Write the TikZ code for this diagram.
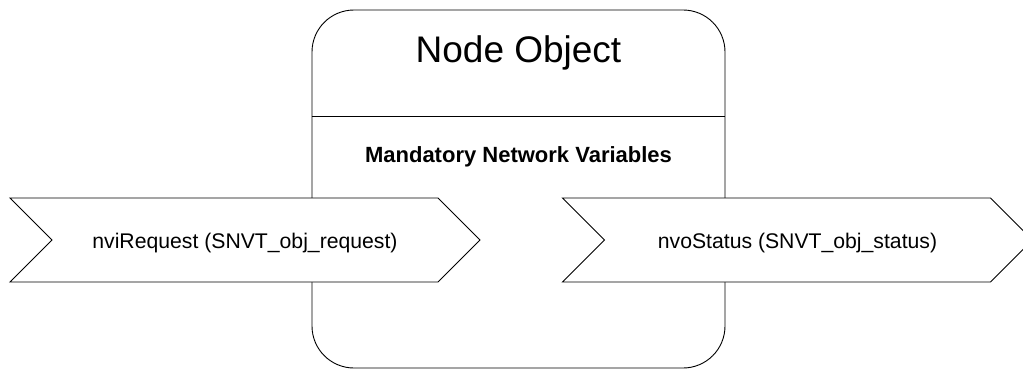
\documentclass[tikz,border=0pt]{standalone}
\usepackage{fontspec}
\setmainfont{Liberation Sans}
\usetikzlibrary{shapes.symbols}
\tikzset{
  line/.style={line width=0.9pt, black},
  node object/.style={line, draw, rectangle, rounded corners=42pt,
    minimum width=413pt, minimum height=358pt, inner sep=0pt},
  title/.style={anchor=base, font=\fontsize{37}{44}\selectfont},
  heading/.style={anchor=base, font=\fontsize{22}{26}\selectfont\bfseries},
  nv/.style={line, draw, fill=white, signal, signal from=west, signal to=east,
    signal pointer angle=90, minimum width=470pt, minimum height=84pt,
    inner sep=0pt, text height=20pt, text depth=4pt,
    font=\fontsize{21.2}{25}\selectfont}
}
\begin{document}
\begin{tikzpicture}[x=1pt,y=-1pt]
    \useasboundingbox (0,0) rectangle (1023,369);
    \clip (0,0) rectangle (1023,369);
    \node[node object] (obj) at (518.5,189) {};
    \node[title] (name) at (518.5,63) {Node Object};
    \coordinate (divider) at (0,116);
    \draw[line] (obj.west |- divider) -- (obj.east |- divider);
    \node[heading] (mandatory) at (518.5,162) {Mandatory Network Variables};
    % network variables
    \node[nv] (request) at (245,240) {nviRequest (SNVT\_obj\_request)};
    \node[nv] (status) at (797.5,240) {nvoStatus (SNVT\_obj\_status)};
\end{tikzpicture}
\end{document}
